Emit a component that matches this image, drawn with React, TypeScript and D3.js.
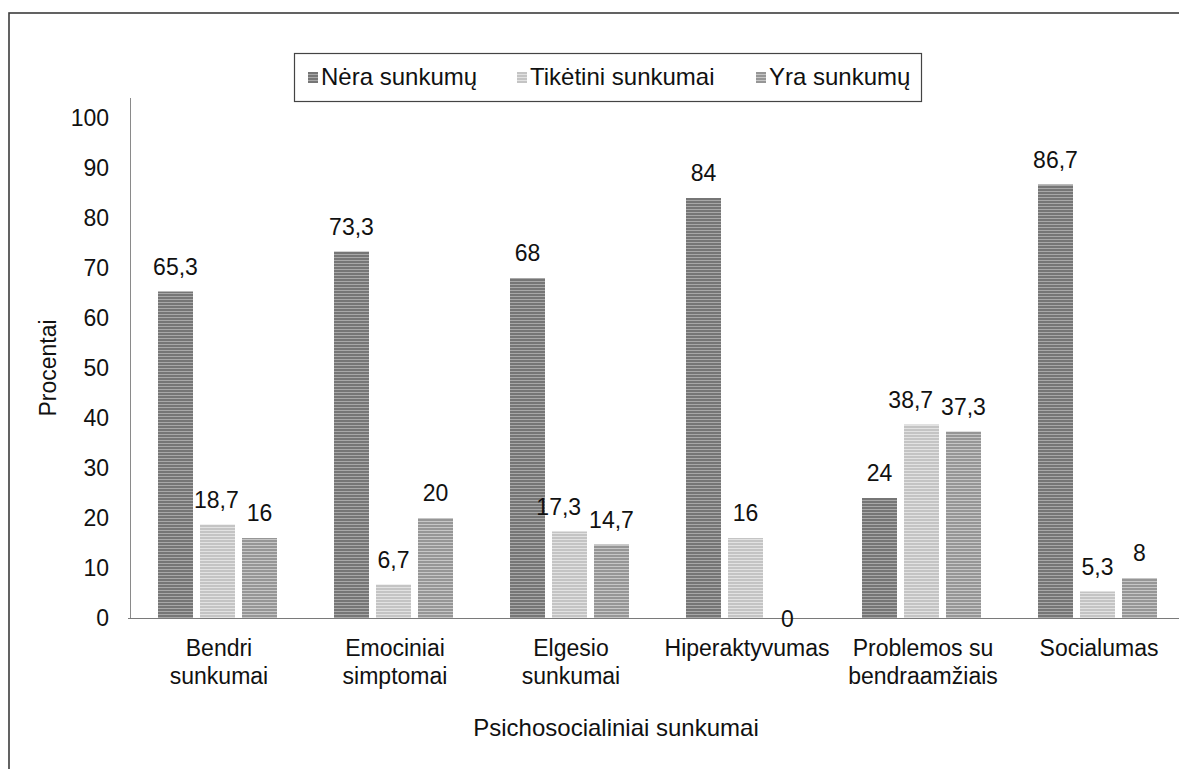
import React, { useRef, useEffect } from 'react';
import * as d3 from 'd3';

// kategorijos (eilutės atskirtos \n)
const categories = [
  'Bendri\nsunkumai',
  'Emociniai\nsimptomai',
  'Elgesio\nsunkumai',
  'Hiperaktyvumas',
  'Problemos su\nbendraamžiais',
  'Socialumas',
];
const seriesNames = ['Nėra sunkumų', 'Tikėtini sunkumai', 'Yra sunkumų'];
const neraSunkumu = [65.3, 73.3, 68, 84, 24, 86.7];
const tiketiniSunkumai = [18.7, 6.7, 17.3, 16, 38.7, 5.3];
const yraSunkumu = [16, 20, 14.7, 0, 37.3, 8];
const yTicks = [0, 10, 20, 30, 40, 50, 60, 70, 80, 90, 100];

const seriesBase = ['#767676', '#c4c4c4', '#969696'];
const seriesLine = ['#a8a8a8', '#e2e2e2', '#c6c6c6'];

const App = () => {
  const ref = useRef<SVGSVGElement>(null);

  useEffect(() => {
    document.body.style.margin = '0';
    const svg = d3.select(ref.current);
    svg.selectAll('*').remove();

    const font = 'Liberation Sans, Arial, sans-serif';
    const fs = 23;
    const left = 131;
    const right = 1187; // ašis išeina už paveikslo krašto
    const top = 118;
    const bottom = 618;

    const values = [neraSunkumu, tiketiniSunkumai, yraSunkumu];

    const x0 = d3.scaleBand().domain(categories).range([left, right]).padding(0);
    const x1 = d3
      .scaleBand()
      .domain(seriesNames)
      .range([27, 146])
      .paddingInner(1 / 6)
      .paddingOuter(0);
    const y = d3.scaleLinear().domain([0, 100]).range([bottom, top]);

    // raštai stulpeliams (horizontalios juostos)
    const defs = svg.append('defs');
    seriesNames.forEach((s, i) => {
      const p = defs
        .append('pattern')
        .attr('id', 'stripe' + i)
        .attr('patternUnits', 'userSpaceOnUse')
        .attr('width', 10)
        .attr('height', 3);
      p.append('rect').attr('width', 10).attr('height', 3).attr('fill', seriesBase[i]);
      p.append('rect').attr('y', 2).attr('width', 10).attr('height', 1).attr('fill', seriesLine[i]);
    });

    // rėmelis
    svg
      .append('rect')
      .attr('x', 9)
      .attr('y', 13)
      .attr('width', 1300)
      .attr('height', 1000)
      .attr('fill', 'none')
      .attr('stroke', '#3c3c3c')
      .attr('stroke-width', 1.6);

    // ašys
    svg
      .append('line')
      .attr('x1', left - 0.5)
      .attr('x2', left - 0.5)
      .attr('y1', y(0))
      .attr('y2', y(104))
      .attr('stroke', '#8a8a8a');
    svg
      .append('line')
      .attr('x1', left - 3)
      .attr('x2', right)
      .attr('y1', y(0) + 0.5)
      .attr('y2', y(0) + 0.5)
      .attr('stroke', '#7a7a7a')
      .attr('stroke-width', 1.2);

    svg
      .append('g')
      .selectAll('text')
      .data(yTicks)
      .enter()
      .append('text')
      .attr('x', 109)
      .attr('y', d => y(d))
      .attr('dy', '0.35em')
      .attr('text-anchor', 'end')
      .attr('font-family', font)
      .attr('font-size', fs)
      .attr('fill', '#111')
      .text(d => d);

    // stulpeliai
    const groups = svg
      .append('g')
      .selectAll('g')
      .data(categories)
      .enter()
      .append('g')
      .attr('transform', d => `translate(${x0(d)},0)`);

    groups
      .selectAll('rect')
      .data((d, ci) => seriesNames.map((s, si) => ({ s, si, v: values[si][ci] })))
      .enter()
      .append('rect')
      .attr('x', d => x1(d.s)!)
      .attr('y', d => y(d.v))
      .attr('width', x1.bandwidth())
      .attr('height', d => y(0) - y(d.v))
      .attr('fill', d => `url(#stripe${d.si})`);

    groups.each(function (cat) {
      const ci = categories.indexOf(cat);
      const labels = d3
        .select(this)
        .selectAll('text.val')
        .data(seriesNames.map((s, si) => ({ s, si, v: values[si][ci] })))
        .enter()
        .append('text')
        .attr('class', 'val')
        .attr('x', d => x1(d.s)! + x1.bandwidth() / 2)
        .attr('y', d => (d.v === 0 ? y(0) + 9 : y(d.v) - 17))
        .attr('text-anchor', 'middle')
        .attr('font-family', font)
        .attr('font-size', fs)
        .attr('fill', '#111')
        .text(d => String(d.v).replace('.', ','));

      // jei etiketės beveik liečiasi, vidurinę patraukti į kairę
      const nodes = labels.nodes() as SVGTextElement[];
      const b1 = nodes[1].getBBox();
      const b2 = nodes[2].getBBox();
      const vOverlap = b1.y < b2.y + b2.height && b2.y < b1.y + b1.height;
      const gap = b2.x - (b1.x + b1.width);
      if (vOverlap && gap < 8) {
        d3.select(nodes[1]).attr('x', +nodes[1].getAttribute('x')! - (8 - gap));
      }
    });

    // kategorijų pavadinimai
    groups.each(function (d) {
      const lines = d.split('\n');
      const t = d3
        .select(this)
        .append('text')
        .attr('x', x0.bandwidth() / 2)
        .attr('y', 656)
        .attr('text-anchor', 'middle')
        .attr('font-family', font)
        .attr('font-size', fs)
        .attr('fill', '#111');
      lines.forEach((l, i) => {
        t.append('tspan')
          .attr('x', x0.bandwidth() / 2)
          .attr('dy', i === 0 ? 0 : 28)
          .text(l);
      });
    });

    // ašių pavadinimai
    svg
      .append('text')
      .attr('x', 616)
      .attr('y', 736)
      .attr('text-anchor', 'middle')
      .attr('font-family', font)
      .attr('font-size', 24)
      .attr('fill', '#111')
      .text('Psichosocialiniai sunkumai');
    svg
      .append('text')
      .attr('transform', `translate(56,${(top + bottom) / 2}) rotate(-90)`)
      .attr('text-anchor', 'middle')
      .attr('font-family', font)
      .attr('font-size', fs)
      .attr('fill', '#111')
      .text('Procentai');

    // legenda
    const lg = svg.append('g');
    lg.append('rect')
      .attr('x', 294.5)
      .attr('y', 53.5)
      .attr('width', 627)
      .attr('height', 48)
      .attr('fill', 'none')
      .attr('stroke', '#444')
      .attr('stroke-width', 1.2);
    const lx = [308, 517, 756];
    seriesNames.forEach((s, i) => {
      lg.append('rect')
        .attr('x', lx[i])
        .attr('y', 72)
        .attr('width', 10)
        .attr('height', 11)
        .attr('fill', `url(#stripe${i})`);
      lg.append('text')
        .attr('x', lx[i] + 13)
        .attr('y', 85)
        .attr('font-family', font)
        .attr('font-size', 24)
        .attr('fill', '#111')
        .text(s);
    });
  }, []);

  return <svg ref={ref} width={1179} height={769} style={{ display: 'block' }} />;
};

export default App;
